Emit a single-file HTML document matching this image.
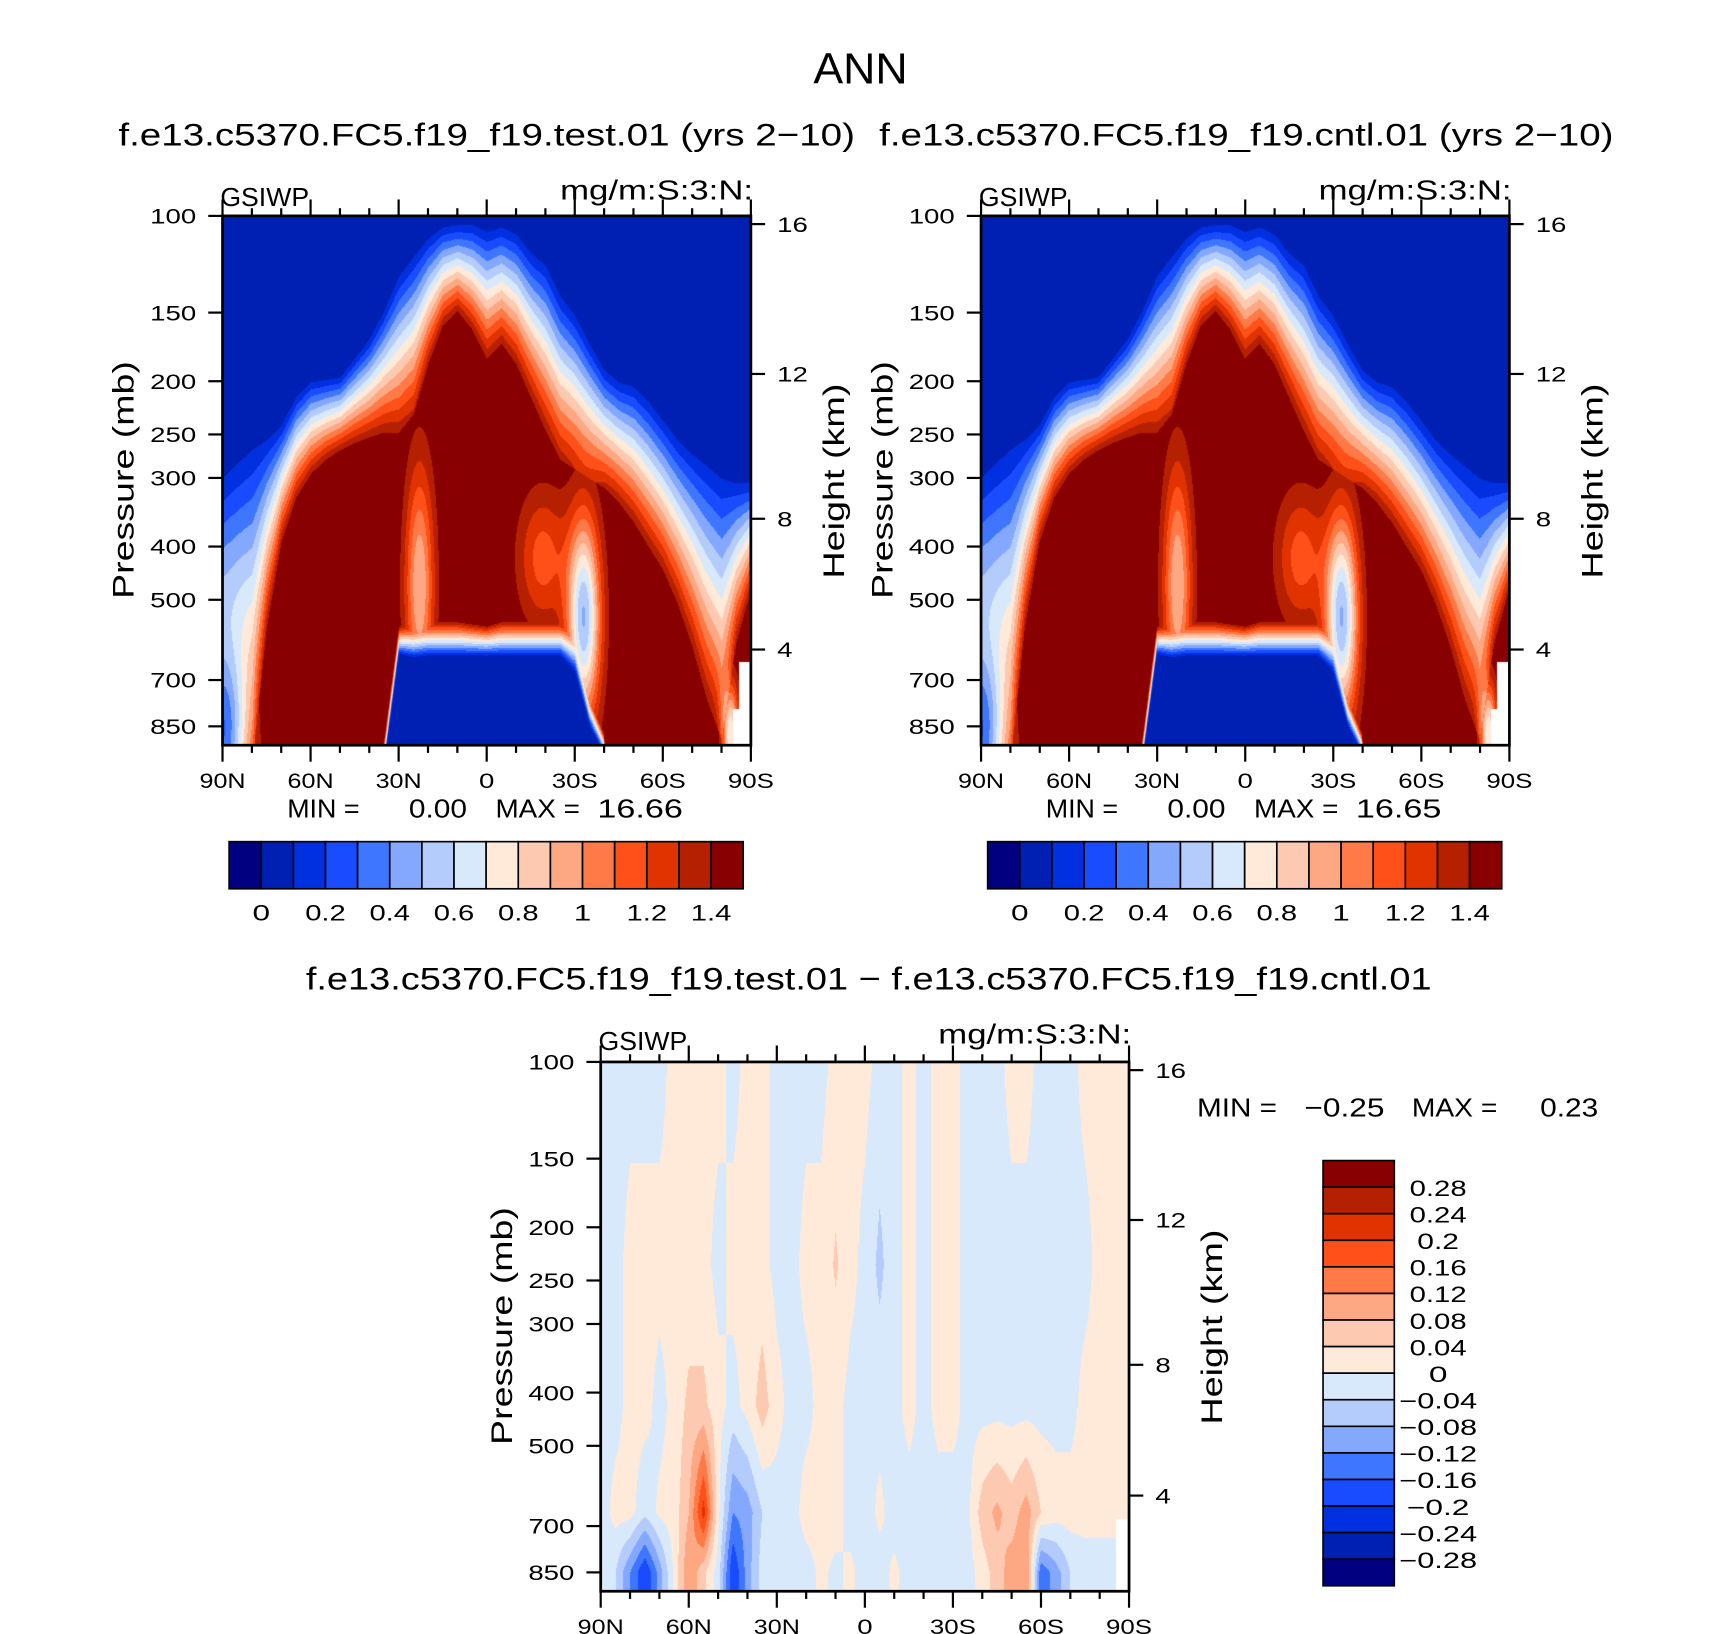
<!DOCTYPE html>
<html><head><meta charset="utf-8"><title>ANN GSIWP</title>
<style>
html,body{margin:0;padding:0;background:#fff;}
#wrap{position:relative;width:1710px;height:1634px;overflow:hidden;background:#fff;}
canvas{position:absolute;}
svg{position:absolute;left:0;top:0;overflow:visible;}
text{font-family:"Liberation Sans",sans-serif;fill:#000;}
</style></head>
<body>
<div id="wrap">
<canvas id="c1"></canvas>
<canvas id="c2"></canvas>
<canvas id="c3"></canvas>
<svg id="svg" width="1710" height="1634" viewBox="0 0 1560 1491" preserveAspectRatio="none">
<text x="785" y="76" font-size="40" text-anchor="middle" textLength="86" lengthAdjust="spacingAndGlyphs">ANN</text>
<text x="108" y="133" font-size="29" textLength="672" lengthAdjust="spacingAndGlyphs">f.e13.c5370.FC5.f19_f19.test.01 (yrs 2−10)</text>
<text x="802" y="133" font-size="29" textLength="670" lengthAdjust="spacingAndGlyphs">f.e13.c5370.FC5.f19_f19.cntl.01 (yrs 2−10)</text>
<text x="279" y="903" font-size="29" textLength="1027" lengthAdjust="spacingAndGlyphs">f.e13.c5370.FC5.f19_f19.test.01 − f.e13.c5370.FC5.f19_f19.cntl.01</text>

<text x="201" y="188" font-size="24" textLength="81" lengthAdjust="spacingAndGlyphs">GSIWP</text>
<text x="511" y="182" font-size="25" textLength="176" lengthAdjust="spacingAndGlyphs">mg/m:S:3:N:</text>
<text x="893" y="188" font-size="24" textLength="81" lengthAdjust="spacingAndGlyphs">GSIWP</text>
<text x="1203" y="182" font-size="25" textLength="176" lengthAdjust="spacingAndGlyphs">mg/m:S:3:N:</text>
<text x="546" y="958" font-size="24" textLength="81" lengthAdjust="spacingAndGlyphs">GSIWP</text>
<text x="856" y="952" font-size="25" textLength="176" lengthAdjust="spacingAndGlyphs">mg/m:S:3:N:</text>

<text transform="translate(122,438) rotate(-90)" font-size="27" text-anchor="middle" textLength="217" lengthAdjust="spacingAndGlyphs">Pressure (mb)</text>
<text transform="translate(770,439) rotate(-90)" font-size="27" text-anchor="middle" textLength="178" lengthAdjust="spacingAndGlyphs">Height (km)</text>
<text transform="translate(814,438) rotate(-90)" font-size="27" text-anchor="middle" textLength="217" lengthAdjust="spacingAndGlyphs">Pressure (mb)</text>
<text transform="translate(1462,439) rotate(-90)" font-size="27" text-anchor="middle" textLength="178" lengthAdjust="spacingAndGlyphs">Height (km)</text>
<text transform="translate(467,1210) rotate(-90)" font-size="27" text-anchor="middle" textLength="217" lengthAdjust="spacingAndGlyphs">Pressure (mb)</text>
<text transform="translate(1115,1211) rotate(-90)" font-size="27" text-anchor="middle" textLength="178" lengthAdjust="spacingAndGlyphs">Height (km)</text>

<g font-size="24">
<text x="262" y="746" textLength="66" lengthAdjust="spacingAndGlyphs">MIN =</text>
<text x="373" y="746" textLength="53" lengthAdjust="spacingAndGlyphs">0.00</text>
<text x="452" y="746" textLength="77" lengthAdjust="spacingAndGlyphs">MAX =</text>
<text x="545" y="746" textLength="78" lengthAdjust="spacingAndGlyphs">16.66</text>
</g>
<g font-size="24">
<text x="954" y="746" textLength="66" lengthAdjust="spacingAndGlyphs">MIN =</text>
<text x="1065" y="746" textLength="53" lengthAdjust="spacingAndGlyphs">0.00</text>
<text x="1144" y="746" textLength="77" lengthAdjust="spacingAndGlyphs">MAX =</text>
<text x="1237" y="746" textLength="78" lengthAdjust="spacingAndGlyphs">16.65</text>
</g>
<g font-size="24">
<text x="1092" y="1019" textLength="73" lengthAdjust="spacingAndGlyphs">MIN =</text>
<text x="1190" y="1019" textLength="73" lengthAdjust="spacingAndGlyphs">−0.25</text>
<text x="1288" y="1019" textLength="78" lengthAdjust="spacingAndGlyphs">MAX =</text>
<text x="1405" y="1019" textLength="53" lengthAdjust="spacingAndGlyphs">0.23</text>
</g>
</svg>
</div>
<script>
// ---------- shared colour table & axis labels ----------
const colors = ["#000080","#0020b4","#0030e0","#1a4cff","#3f76ff","#85a8ff","#b4ccfb","#d8e9fc","#ffead9","#fdcab1","#fea883","#ff7a46","#ff5019","#e13300","#b52000","#880000"];
const lats = [90,85,80,75,70,65,60,55,50,45,40,35,30,25,20,15,10,5,0,-5,-10,-15,-20,-25,-30,-35,-40,-45,-50,-55,-60,-65,-70,-75,-80,-85,-90];
const pressureTicks = [100,150,200,250,300,400,500,700,850];
const heightTicks = ["16","12","8","4"];
const heightTickPressures = [103.5,194,356,616];
const latTickValues = [90,60,30,0,-30,-60,-90];
const latTickLabels = ["90N","60N","30N","0","30S","60S","90S"];
const cbLabels = ["0","0.2","0.4","0.6","0.8","1","1.2","1.4"];
const diffCbLabels = ["0.28","0.24","0.2","0.16","0.12","0.08","0.04","0","−0.04","−0.08","−0.12","−0.16","−0.2","−0.24","−0.28"];

// ---------- test panel data (pressure, mb, of contour boundaries per latitude) ----------
const p1TopEdge = [301,283,267,256,241,214,201,199,197,182,168,149,129,119,110,105,104,104,107,105,108,117,123,140,152,171,191,201,205,218,236,256,272,286,301,307,307];
const p1RedTop  = [1000,1000,1000,560,391,326,295,278,267,259,253,248,248,230,186,158,149,161,182,171,186,214,246,278,289,301,313,333,361,399,441,508,608,759,900,600,480];
const p1RedBot  = [5000,5000,5000,5000,5000,5000,5000,5000,5000,5000,5000,900,560,555,550,550,550,555,560,550,550,550,550,550,560,750,880,5000,5000,5000,5000,5000,5000,5000,5000,5000,5000];
const p1BlueTop = [6000,6000,6000,6000,6000,6000,6000,6000,6000,6000,6000,1000,630,640,635,635,635,635,635,635,635,635,635,635,680,850,960,6000,6000,6000,6000,6000,6000,6000,6000,6000,6000];
const p1BlobLat = [23,-33,-19,90,-83];
const p1BlobP   = [470,540,420,950,880];
const p1BlobDv  = [-0.6,-1.0,-0.35,-1.0,-0.8];

// ---------- control panel data ----------
const p2TopEdge = [301,283,267,256,241,214,201,199,197,182,168,149,129,119,110,105,104,104,107,105,108,117,123,140,152,171,191,201,205,218,236,256,272,286,301,307,307];
const p2RedTop  = [1000,1000,1000,560,391,326,295,278,267,259,253,248,248,230,186,158,149,161,182,171,186,214,246,278,289,301,313,333,361,399,441,508,608,759,900,600,480];
const p2RedBot  = [5000,5000,5000,5000,5000,5000,5000,5000,5000,5000,5000,900,560,555,550,550,550,555,560,550,550,550,550,550,560,750,880,5000,5000,5000,5000,5000,5000,5000,5000,5000,5000];
const p2BlueTop = [6000,6000,6000,6000,6000,6000,6000,6000,6000,6000,6000,1000,630,640,635,635,635,635,635,635,635,635,635,635,680,850,960,6000,6000,6000,6000,6000,6000,6000,6000,6000,6000];
const p2BlobLat = [23,-33,-19,90,-83];
const p2BlobP   = [470,540,420,950,880];
const p2BlobDv  = [-0.6,-1.0,-0.35,-1.0,-0.8];
const blobSigLat = [3.5,4,6,6,2];
const blobSigLp  = [0.35,0.3,0.2,0.3,0.15];

// ---------- difference panel data (values at pressure levels per latitude) ----------
const diffLevels = [100,234,424,662,850,920];
const diff100 = [-.015,-.015,-.015,-.015,-.015,.015,.015,.015,.015,-.015,.015,.015,-.015,-.015,-.015,-.015,.015,.015,.015,-.015,-.015,.015,-.015,.015,.015,-.015,-.015,-.015,.015,.015,-.015,-.015,-.015,.015,.015,.015,.015];
const diff234 = [-.015,-.015,.015,.015,.015,.015,.015,.015,-.015,.015,.015,.015,-.015,-.015,.015,.015,.045,.015,-.015,-.05,-.015,.015,-.015,.015,.015,-.015,-.015,-.015,-.015,-.015,-.015,-.015,-.015,-.015,.015,.015,.015];
const diff424 = [-.015,-.015,.015,.015,-.015,.015,.05,.05,.015,-.015,.015,.06,.015,-.015,-.015,.015,.015,-.015,-.015,-.015,-.015,.015,-.015,.015,.015,-.015,-.015,-.015,-.015,-.015,-.015,-.015,-.015,.015,.015,.015,.015];
const diff662 = [-.02,.015,.015,-.03,.01,.02,.08,.22,.01,-.12,-.1,-.04,-.02,-.02,.02,.02,.02,-.02,-.02,.01,-.02,-.02,-.02,-.02,-.02,-.01,.06,.09,.06,.1,.04,.02,.02,.015,.015,.015,.015];
const diff850 = [-.02,-.04,-.12,-.2,-.1,.01,.12,.05,-.02,-.2,-.1,-.02,-.02,-.02,-.02,.01,-.01,.01,-.02,-.02,.01,-.02,-.02,-.02,-.02,-.02,.02,.06,.1,.12,-.15,-.1,-.04,-.02,-.02,-.02,-.02];
const diff920 = [-.02,-.04,-.12,-.2,-.1,.01,.12,.05,-.02,-.2,-.1,-.02,-.02,-.02,-.02,.01,-.01,.01,-.02,-.02,.01,-.02,-.02,-.02,-.02,-.02,.02,.06,.1,.12,-.15,-.1,-.04,-.02,-.02,-.02,-.02];
const diffRows = [diff100,diff234,diff424,diff662,diff850,diff920];

// ---------- geometry ----------
const SX = 1710/1560, SY = 1634/1491;
const PW = 482, PH = 483, PBOT = 920;
const NS = "http://www.w3.org/2000/svg";
const svg = document.getElementById('svg');
function yP(p, top){ return top + Math.log(p/100)/Math.log(PBOT/100)*PH; }
function xL(lat, left){ return left + (90-lat)/180*PW; }

function latInterpLog(arr, lat){
  let f=(90-lat)/5; let i=Math.max(0,Math.min(35,Math.floor(f))); let t=f-i;
  return Math.exp(Math.log(arr[i])*(1-t)+Math.log(arr[i+1])*t);
}
function latInterp(arr, lat){
  let f=(90-lat)/5; let i=Math.max(0,Math.min(35,Math.floor(f))); let t=f-i;
  return arr[i]*(1-t)+arr[i+1]*t;
}
function hexRGB(h){ return [parseInt(h.substr(1,2),16),parseInt(h.substr(3,2),16),parseInt(h.substr(5,2),16)]; }
const rgb = colors.map(hexRGB);

function meanField(lat,p,te,rt,rb,bt,bl,bp,bd){
  if (lat<-86 && p>650) return null;
  if (lat<-84 && p>790) return null;
  const tE=latInterpLog(te,lat), rT=latInterpLog(rt,lat);
  let v;
  if (p<=tE) v=0.05; else if (p>=rT) v=1.5; else v=0.1+1.3*Math.log(p/tE)/Math.log(rT/tE);
  for (let k=0;k<bl.length;k++){
    const a=(lat-bl[k])/blobSigLat[k], b=Math.log(p/bp[k])/blobSigLp[k];
    v += bd[k]*Math.exp(-0.5*(a*a+b*b));
  }
  const rB=latInterpLog(rb,lat), bT=latInterpLog(bt,lat);
  if (p>rB){ const t = p>=bT ? 0.05 : 1.4-1.35*Math.log(p/rB)/Math.log(bT/rB); v=Math.min(v,t); }
  v=Math.max(v,0.05);
  return Math.min(15,Math.floor(v/0.1)+1);
}
function diffField(lat,p){
  if (lat<-85.5 && p>680) return null;
  let lp=Math.log(p); let j=0;
  while (j<diffLevels.length-2 && p>diffLevels[j+1]) j++;
  let t=(lp-Math.log(diffLevels[j]))/(Math.log(diffLevels[j+1])-Math.log(diffLevels[j]));
  t=Math.max(0,Math.min(1,t));
  const v=latInterp(diffRows[j],lat)*(1-t)+latInterp(diffRows[j+1],lat)*t;
  return Math.max(0,Math.min(15,Math.floor(v/0.04)+8));
}
function drawCanvas(id,left,top,fn){
  const c=document.getElementById(id);
  const L=Math.round(left*SX), T=Math.round(top*SY);
  const W=Math.round((left+PW)*SX)-L, H=Math.round((top+PH)*SY)-T;
  c.style.left=L+'px'; c.style.top=T+'px'; c.width=W; c.height=H;
  const ctx=c.getContext('2d'); const img=ctx.createImageData(W,H);
  for (let j=0;j<H;j++){
    const p=100*Math.exp(Math.log(PBOT/100)*(j+0.5)/H);
    for (let i=0;i<W;i++){
      const lat=90-180*(i+0.5)/W;
      const idx=fn(lat,p); const o=(j*W+i)*4;
      const col = idx===null?[255,255,255]:rgb[idx];
      img.data[o]=col[0]; img.data[o+1]=col[1]; img.data[o+2]=col[2]; img.data[o+3]=255;
    }
  }
  ctx.putImageData(img,0,0);
}
drawCanvas('c1',203,197,(la,p)=>meanField(la,p,p1TopEdge,p1RedTop,p1RedBot,p1BlueTop,p1BlobLat,p1BlobP,p1BlobDv));
drawCanvas('c2',895,197,(la,p)=>meanField(la,p,p2TopEdge,p2RedTop,p2RedBot,p2BlueTop,p2BlobLat,p2BlobP,p2BlobDv));
drawCanvas('c3',548,969,diffField);

// ---------- axes ----------
function ln(g,x1,y1,x2,y2,w){ const e=document.createElementNS(NS,'line');
  e.setAttribute('x1',x1);e.setAttribute('y1',y1);e.setAttribute('x2',x2);e.setAttribute('y2',y2);
  e.setAttribute('stroke','#000');e.setAttribute('stroke-width',w||2);
  
  
  g.appendChild(e); return e; }
function tx(g,x,y,s,anchor,len,fs){ const e=document.createElementNS(NS,'text');
  e.setAttribute('x',x);e.setAttribute('y',y);e.setAttribute('font-size',fs||19);
  e.setAttribute('text-anchor',anchor);
  if(len){e.setAttribute('textLength',len);e.setAttribute('lengthAdjust','spacingAndGlyphs');}
  
  
  e.textContent=s; g.appendChild(e); return e; }
function charLen(s){ let n=0; for(const ch of s){ n += (ch==='.')?7:(ch==='−'?19:14); } return n; }
function axes(name,left,top){
  const g=document.createElementNS(NS,'g');
  
  
  svg.appendChild(g);
  const r=document.createElementNS(NS,'rect');
  r.setAttribute('x',left);r.setAttribute('y',top);r.setAttribute('width',PW);r.setAttribute('height',PH);
  r.setAttribute('fill','none');r.setAttribute('stroke','#000');r.setAttribute('stroke-width',2.5);
  
  
  g.appendChild(r);
  pressureTicks.forEach(p=>{ const y=yP(p,top); ln(g,left-13,y,left,y); tx(g,left-24,y+7,String(p),'end',charLen(String(p))); });
  heightTicks.forEach((h,k)=>{ const y=yP(heightTickPressures[k],top); ln(g,left+PW,y,left+PW+13,y); tx(g,left+PW+24,y+7,h,'start',charLen(h)); });
  for(let lat=90;lat>=-90;lat-=10){ const x=xL(lat,left); const major=(lat%30===0);
    ln(g,x,top,x,top-(major?15:7)); ln(g,x,top+PH,x,top+PH+(major?15:7)); }
  latTickValues.forEach((lat,k)=>{ const s=latTickLabels[k]; tx(g,xL(lat,left),top+PH+39,s,'middle',charLen(s)); });
}
axes('test',203,197); axes('control',895,197); axes('difference',548,969);

// ---------- colorbars ----------
function hbar(name,x0,y0){
  const g=document.createElementNS(NS,'g');
  
  
  svg.appendChild(g);
  const w=469/16;
  colors.forEach((c,k)=>{ const r=document.createElementNS(NS,'rect');
    r.setAttribute('x',x0+k*w);r.setAttribute('y',y0);r.setAttribute('width',w);r.setAttribute('height',43);
    r.setAttribute('fill',c);r.setAttribute('stroke','#000');r.setAttribute('stroke-width',1.5);
    
    
    g.appendChild(r); });
  cbLabels.forEach((s,k)=>{ tx(g,x0+(2*k+1)*w,y0+72,s,'middle',charLen(s)+2,20); });
}
hbar('test',209,768); hbar('control',901,768);
(function(){
  const g=document.createElementNS(NS,'g');
  
  
  svg.appendChild(g);
  const x0=1207,y0=1059,h=388/16;
  for(let k=0;k<16;k++){ const r=document.createElementNS(NS,'rect');
    r.setAttribute('x',x0);r.setAttribute('y',y0+k*h);r.setAttribute('width',65);r.setAttribute('height',h);
    r.setAttribute('fill',colors[15-k]);r.setAttribute('stroke','#000');r.setAttribute('stroke-width',1.5);
    
    
    g.appendChild(r); }
  diffCbLabels.forEach((s,k)=>{ tx(g,1312,y0+(k+1)*h+8,s,'middle',charLen(s)+3,20); });
})();
</script>
</body></html>
